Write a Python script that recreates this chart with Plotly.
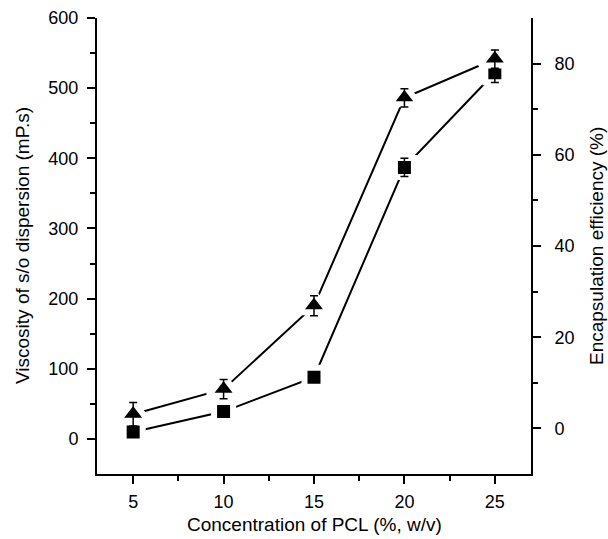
import plotly.graph_objects as go

conc = [5, 10, 15, 20, 25]
viscosity = [10, 39, 88, 387, 522]
viscosity_err = [3, 3, 4, 13, 14]
efficiency = [3.1, 8.6, 26.9, 72.5, 81.0]
efficiency_err = [2.6, 2.1, 2.2, 2.0, 2.0]

FONT = "Liberation Sans, Arial, sans-serif"

fig = go.Figure()

# lines + markers (white halo creates the gap between line and marker)
fig.add_trace(go.Scatter(
    x=conc, y=viscosity, mode="lines+markers", yaxis="y",
    line=dict(color="black", width=2),
    marker=dict(symbol="square", size=19, color="black",
                line=dict(color="white", width=6)),
    showlegend=False, hoverinfo="skip",
))
fig.add_trace(go.Scatter(
    x=conc, y=efficiency, mode="lines+markers", yaxis="y2",
    line=dict(color="black", width=2),
    marker=dict(symbol="triangle-up", size=26, color="black",
                line=dict(color="white", width=6)),
    showlegend=False, hoverinfo="skip",
))
# error bars drawn on top
fig.add_trace(go.Scatter(
    x=conc, y=viscosity, mode="markers", yaxis="y",
    marker=dict(size=1, opacity=0),
    error_y=dict(type="data", array=viscosity_err, visible=True,
                 color="black", thickness=1.5, width=4),
    showlegend=False,
))
fig.add_trace(go.Scatter(
    x=conc, y=efficiency, mode="markers", yaxis="y2",
    marker=dict(size=1, opacity=0),
    error_y=dict(type="data", array=efficiency_err, visible=True,
                 color="black", thickness=1.5, width=4),
    showlegend=False,
))

axis_common = dict(showgrid=False, zeroline=False, showline=True,
                   linecolor="black", linewidth=2, tickcolor="black",
                   tickwidth=2, ticklen=8, automargin=False,
                   tickfont=dict(family=FONT, size=18, color="black"))

minor_out = dict(ticks="outside", ticklen=5, tickwidth=2, tickcolor="black")
minor_in = dict(ticks="inside", ticklen=5, tickwidth=2, tickcolor="black")

fig.update_layout(
    width=608, height=539,
    margin=dict(l=97, r=77, t=18, b=65),
    paper_bgcolor="white", plot_bgcolor="white",
    font=dict(family=FONT, size=18, color="black"),
    xaxis=dict(range=[3, 27], tickvals=conc, ticks="outside",
               minor=dict(tickvals=[7.5, 12.5, 17.5, 22.5], **minor_out),
               ticklabelstandoff=2, **axis_common),
    xaxis2=dict(range=[3, 27], overlaying="x", side="top", tickvals=conc,
                ticks="inside", showticklabels=False,
                minor=dict(tickvals=[7.5, 12.5, 17.5, 22.5], **minor_in),
                **axis_common),
    yaxis=dict(range=[-50, 600], tickvals=[0, 100, 200, 300, 400, 500, 600],
               ticks="outside",
               minor=dict(tickvals=[50, 150, 250, 350, 450, 550], **minor_out),
               ticklabelstandoff=5, **axis_common),
    yaxis2=dict(range=[-10, 90], overlaying="y", side="right",
                tickvals=[0, 20, 40, 60, 80], ticks="outside",
                minor=dict(tickvals=[10, 30, 50, 70], **minor_out),
                ticklabelstandoff=10, **axis_common),
    annotations=[
        dict(text="Concentration of PCL (%, w/v)", xref="paper", yref="paper",
             x=0.5, y=0, xanchor="center", yanchor="middle", yshift=-50,
             showarrow=False, font=dict(size=19)),
        dict(text="Viscosity of s/o dispersion (mP.s)", xref="paper", yref="paper",
             x=0, y=0.5, xanchor="center", yanchor="middle", xshift=-75,
             textangle=-90, showarrow=False, font=dict(size=19)),
        dict(text="Encapsulation efficiency (%)", xref="paper", yref="paper",
             x=1, y=0.5, xanchor="center", yanchor="middle", xshift=65,
             textangle=-90, showarrow=False, font=dict(size=19)),
    ],
)

fig.write_html("out.html",
               config={"displayModeBar": False},
               post_script="document.body.style.margin='0';document.body.style.overflow='hidden';")
